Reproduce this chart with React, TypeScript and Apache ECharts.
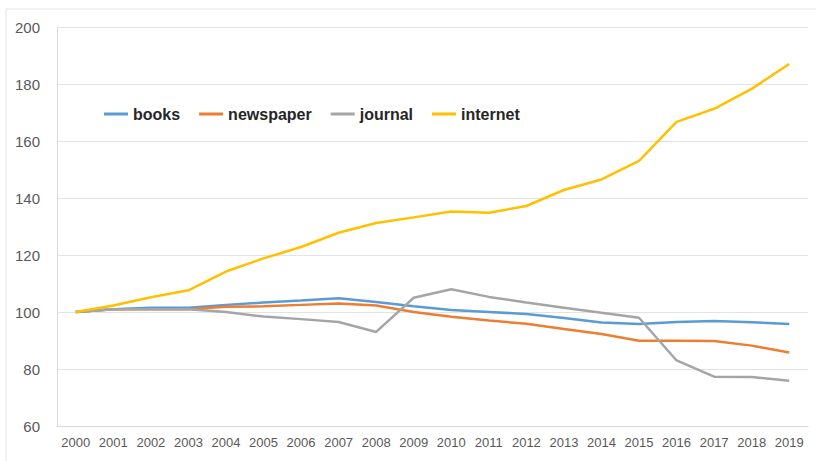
import React, { useEffect, useRef } from "react";
import * as echarts from "echarts";

const years = ["2000","2001","2002","2003","2004","2005","2006","2007","2008","2009","2010","2011","2012","2013","2014","2015","2016","2017","2018","2019"];
const books = [100, 101, 101.5, 101.5, 102.5, 103.3, 104, 104.8, 103.5, 102, 100.7, 100, 99.3, 97.9, 96.3, 95.8, 96.5, 96.8, 96.4, 95.8];
const newspaper = [100, 101, 101, 101, 101.8, 102, 102.5, 103, 102.3, 100, 98.3, 97, 95.9, 94, 92.3, 89.9, 89.9, 89.8, 88.2, 85.8];
const journal = [100, 101, 101, 101, 100, 98.4, 97.5, 96.5, 93, 105, 108, 105.3, 103.3, 101.5, 99.7, 98, 83, 77.3, 77.2, 75.9];
const internet = [100, 102.3, 105.2, 107.6, 114.2, 118.8, 122.8, 127.8, 131.2, 133.2, 135.3, 134.8, 137.2, 142.8, 146.5, 153, 166.7, 171.3, 178.3, 187];
const yTicks = { min: 60, max: 200, interval: 20 };

export default function App() {
  const ref = useRef<HTMLDivElement>(null);
  useEffect(() => {
    if (!ref.current) return;
    const chart = echarts.init(ref.current, null, { renderer: "svg" });
    const mk = (name: string, data: number[], color: string) => ({
      name,
      type: "line",
      data,
      symbol: "none",
      lineStyle: { width: 2.5, color },
      itemStyle: { color },
    });
    chart.setOption({
      animation: false,
      backgroundColor: "#ffffff",
      graphic: [
        {
          type: "rect",
          shape: { x: 6, y: 9, width: 830, height: 470 },
          style: { fill: "none", stroke: "#e3e3e3", lineWidth: 1 },
          silent: true,
        },
      ],
      legend: {
        left: 99,
        top: 101,
        icon: "rect",
        itemWidth: 24,
        itemHeight: 3,
        itemGap: 19,
        textStyle: { fontFamily: "Liberation Sans", fontWeight: "bold", fontSize: 16, color: "#262626" },
        data: ["books", "newspaper", "journal", "internet"],
      },
      grid: { left: 57, right: 8, top: 27, bottom: 35, containLabel: false },
      xAxis: {
        type: "category",
        data: years,
        boundaryGap: true,
        axisLine: { show: true, lineStyle: { color: "#d9d9d9" } },
        axisTick: { show: false },
        axisLabel: { color: "#595959", fontFamily: "Liberation Sans", fontSize: 13, margin: 10, interval: 0 },
      },
      yAxis: {
        type: "value",
        min: yTicks.min,
        max: yTicks.max,
        interval: yTicks.interval,
        axisLine: { show: true, lineStyle: { color: "#d9d9d9" } },
        axisTick: { show: false },
        splitLine: { show: true, lineStyle: { color: "#e3e3e3", width: 1 } },
        axisLabel: { color: "#595959", fontFamily: "Liberation Sans", fontSize: 15, margin: 17 },
      },
      series: [
        mk("books", books, "#5B9BD5"),
        mk("newspaper", newspaper, "#ED7D31"),
        mk("journal", journal, "#A5A5A5"),
        mk("internet", internet, "#FFC000"),
      ],
    });
    return () => chart.dispose();
  }, []);
  return <div ref={ref} style={{ position: "fixed", left: 0, top: 0, width: 816, height: 461 }} />;
}
